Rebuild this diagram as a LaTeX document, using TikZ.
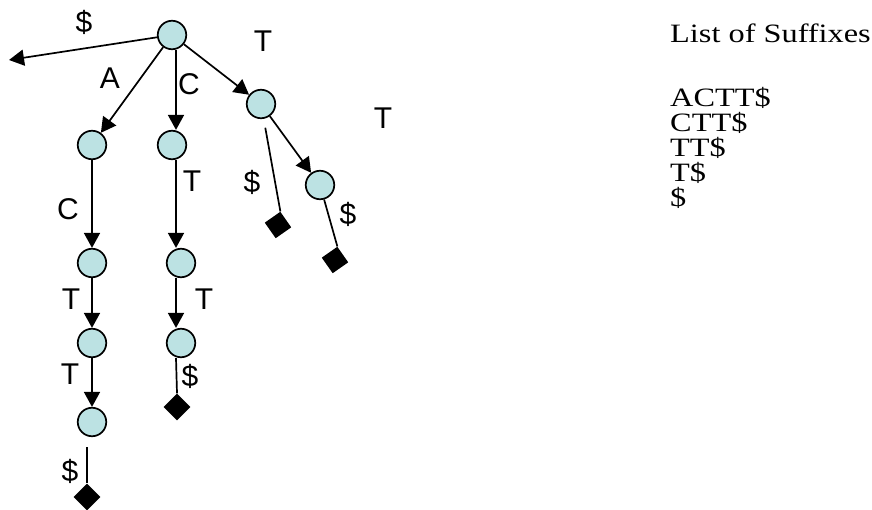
\documentclass[tikz,border=0pt]{standalone}
\usepackage{fontspec}
\usepackage{graphicx}
\setmainfont{Liberation Serif}
\newfontfamily\labelfont{Liberation Sans}
\usetikzlibrary{arrows.meta,shapes.geometric}
\definecolor{nodefill}{HTML}{BCE2E3}
\newcommand{\widetext}[1]{\scalebox{1.22}[1]{#1}}
\tikzset{
  vert/.style={circle,draw=black,line width=1.7pt,fill=nodefill,minimum size=28.5pt,inner sep=0pt},
  leaf/.style={diamond,fill=black,draw=none,minimum size=27pt,inner sep=0pt},
  edgearr/.style={line width=1.7pt,-{Triangle[length=15pt,width=16pt]}},
  edgeline/.style={line width=1.7pt},
  lbl/.style={font=\labelfont\fontsize{30}{30}\selectfont,inner sep=0pt},
  suffix/.style={font=\fontsize{26.5}{26.5}\selectfont,anchor=base west,inner sep=0pt}
}
\begin{document}
\begin{tikzpicture}[x=1pt,y=-1pt]
\useasboundingbox (0,0) rectangle (872,510);
% tree vertices
\node[vert] (root) at (172,35) {};
\node[vert] (a1) at (92,145) {};
\node[vert] (a2) at (92,263) {};
\node[vert] (a3) at (92,343) {};
\node[vert] (a4) at (92,422) {};
\node[vert] (c1) at (172,145) {};
\node[vert] (c2) at (181,263) {};
\node[vert] (c3) at (181,343) {};
\node[vert] (t1) at (261,104) {};
\node[vert] (t2) at (320,185) {};
% leaves
\node[leaf] (da) at (87,497) {};
\node[leaf] (dc) at (177,407) {};
\node[leaf,rotate=-10] (dt1) at (278,225) {};
\node[leaf,rotate=-10] (dt2) at (335,260) {};
\coordinate (dollarend) at (9,60);
\coordinate (cx) at (176,0);
\coordinate (ax) at (87,0);
% edges
\draw[edgearr] (root) -- (dollarend);
\draw[edgearr] (root) -- (a1);
\draw[edgearr] ([xshift=4pt]root.south) -- (c1.north -| cx);
\draw[edgearr] (root) -- (t1);
\draw[edgearr] (a1) -- (a2);
\draw[edgearr] (a2) -- (a3);
\draw[edgearr] (a3) -- (a4);
\draw[edgeline] ([yshift=-10pt]a4.south -| ax) -- (da.north);
\draw[edgearr] (c1.south -| cx) -- (c2.north -| cx);
\draw[edgearr] (c2.south -| cx) -- (c3.north -| cx);
\draw[edgeline] (c3.south -| cx) -- (dc.north);
\draw[edgeline,shorten <=9pt] (t1) -- (dt1.north);
\draw[edgearr] (t1) -- (t2);
\draw[edgeline] (t2) -- (dt2.north);
% edge labels
\node[lbl] (l1) at (84,22) {\$};
\node[lbl] (l2) at (263,41) {T};
\node[lbl] (l3) at (110,78) {A};
\node[lbl] (l4) at (189,84) {C};
\node[lbl] (l5) at (383,118) {T};
\node[lbl] (l6) at (68,209) {C};
\node[lbl] (l7) at (192,181) {T};
\node[lbl] (l8) at (71,299) {T};
\node[lbl] (l9) at (204,299) {T};
\node[lbl] (l10) at (70,374) {T};
\node[lbl] (l11) at (190,376) {\$};
\node[lbl] (l12) at (70,471) {\$};
\node[lbl] (l13) at (252,182) {\$};
\node[lbl] (l14) at (348,214) {\$};
% suffix list
\node[suffix] (title) at (670,43) {\widetext{List of Suffixes}};
\node[suffix] (s1) at (670,107) {\widetext{ACTT\$}};
\node[suffix] (s2) at (670,132) {\widetext{CTT\$}};
\node[suffix] (s3) at (670,157) {\widetext{TT\$}};
\node[suffix] (s4) at (670,182) {\widetext{T\$}};
\node[suffix] (s5) at (670,207) {\widetext{\$}};
\end{tikzpicture}
\end{document}
